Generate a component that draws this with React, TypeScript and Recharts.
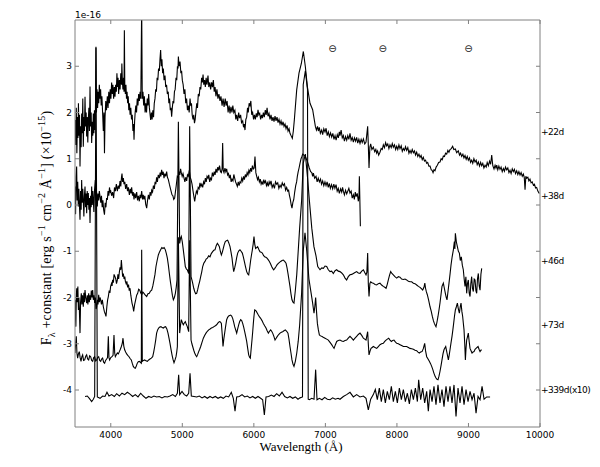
import React from 'react';
import { LineChart, Line, XAxis, YAxis, ReferenceDot } from 'recharts';

// spectra: [wavelength (A), flux + offset]
const day22: [number, number][] = [
  [3500, 1.84], [3510, 1.3], [3518, 2.1], [3526, 1.12], [3534, 1.9], [3541, 1.45], [3548, 2.2], [3556, 1.5],
  [3563, 1.95], [3570, 0.83], [3578, 1.7], [3586, 1.25], [3593, 1.98], [3601, 1.55], [3609, 2.3], [3616, 1.26],
  [3624, 1.9], [3632, 1.6], [3640, 2.34], [3648, 1.7], [3656, 2.0], [3663, 1.48], [3671, 1.9], [3679, 1.35],
  [3686, 1.84], [3694, 2.1], [3702, 1.6], [3710, 2.56], [3718, 1.7], [3726, 2.0], [3733, 1.34], [3741, 1.8],
  [3749, 1.5], [3756, 1.98], [3764, 1.55], [3772, 2.05], [3780, 1.62], [3787, 2.2], [3793, 3.42], [3800, 2.0],
  [3808, 2.5], [3816, 2.1], [3824, 2.45], [3832, 2.2], [3840, 2.6], [3850, 2.3], [3858, 2.5], [3866, 2.15],
  [3876, 2.35], [3886, 2.0], [3896, 1.6], [3905, 2.0], [3912, 1.12], [3920, 1.9], [3930, 2.25], [3940, 2.05],
  [3952, 2.35], [3962, 2.1], [3972, 2.45], [3982, 2.2], [3992, 2.5], [4002, 2.3], [4012, 2.65], [4022, 2.4],
  [4030, 2.6], [4040, 2.3], [4050, 2.55], [4059, 2.34], [4068, 2.6], [4078, 2.45], [4086, 2.85], [4094, 2.55],
  [4102, 2.75], [4110, 2.4], [4120, 2.7], [4130, 2.5], [4140, 2.85], [4150, 2.6], [4155, 3.06], [4162, 2.7],
  [4170, 2.5], [4178, 2.75], [4185, 2.45], [4190, 3.78], [4196, 2.6], [4204, 2.4], [4212, 2.6], [4220, 2.3],
  [4228, 2.45], [4236, 2.2], [4244, 2.35], [4252, 2.05], [4262, 2.2], [4270, 1.95], [4280, 2.1], [4290, 1.85],
  [4300, 1.95], [4310, 1.6], [4318, 1.75], [4325, 1.41], [4333, 1.8], [4341, 2.0], [4350, 2.15], [4360, 2.0],
  [4370, 2.3], [4380, 2.15], [4390, 2.4], [4400, 2.25], [4410, 2.45], [4420, 2.3], [4432, 4.3], [4440, 2.3],
  [4450, 2.45], [4460, 2.15], [4470, 2.35], [4480, 2.0], [4490, 2.2], [4500, 2.0], [4510, 2.3], [4520, 2.15],
  [4530, 2.4], [4540, 2.1], [4550, 1.95], [4558, 1.84], [4568, 2.0], [4578, 1.85], [4588, 2.05], [4598, 1.9],
  [4608, 2.2], [4618, 2.3], [4628, 2.5], [4638, 2.45], [4648, 2.75], [4658, 2.7], [4668, 2.95], [4679, 2.9],
  [4688, 3.15], [4697, 3.35], [4706, 3.0], [4715, 3.15], [4725, 2.85], [4735, 2.95], [4745, 2.7], [4758, 2.8],
  [4768, 2.55], [4780, 2.6], [4791, 2.4], [4803, 2.45], [4812, 2.2], [4822, 2.3], [4832, 2.05], [4842, 2.1],
  [4851, 1.91], [4860, 2.1], [4870, 2.25], [4880, 2.2], [4890, 2.45], [4900, 2.5], [4912, 2.75], [4922, 2.7],
  [4932, 3.0], [4940, 2.95], [4945, 3.21], [4955, 3.0], [4968, 3.1], [4980, 2.85], [4990, 2.9], [5000, 2.7],
  [5012, 2.6], [5024, 2.4], [5036, 2.5], [5048, 2.2], [5060, 2.3], [5072, 2.05], [5084, 2.15], [5096, 2.0],
  [5108, 2.3], [5117, 2.15], [5128, 2.2], [5138, 1.95], [5150, 1.85], [5160, 1.95], [5170, 1.77], [5180, 1.85],
  [5192, 2.05], [5202, 2.2], [5212, 2.1], [5224, 2.4], [5236, 2.35], [5247, 2.55], [5258, 2.5], [5270, 2.75],
  [5280, 2.65], [5290, 2.82], [5300, 2.6], [5312, 2.7], [5322, 2.55], [5333, 2.75], [5345, 2.6], [5359, 2.8],
  [5370, 2.55], [5384, 2.65], [5396, 2.5], [5410, 2.65], [5422, 2.55], [5434, 2.7], [5446, 2.45], [5458, 2.55],
  [5470, 2.35], [5484, 2.5], [5498, 2.3], [5512, 2.4], [5527, 2.25], [5540, 2.35], [5556, 2.15], [5570, 2.3],
  [5584, 2.12], [5600, 2.3], [5612, 2.15], [5626, 2.25], [5640, 2.0], [5654, 2.15], [5667, 1.98], [5680, 2.12],
  [5694, 2.0], [5706, 2.15], [5720, 2.0], [5735, 2.05], [5748, 1.85], [5760, 1.95], [5774, 1.82], [5788, 2.0],
  [5800, 1.88], [5815, 1.95], [5828, 1.78], [5844, 1.82], [5856, 1.68], [5866, 1.75], [5876, 1.62], [5888, 1.85],
  [5900, 1.9], [5912, 2.1], [5922, 2.0], [5934, 2.2], [5946, 2.15], [5958, 2.25], [5970, 1.95], [5983, 2.0],
  [5996, 1.85], [6008, 1.95], [6021, 1.85], [6034, 1.98], [6046, 1.9], [6058, 2.06], [6070, 1.95], [6082, 1.98],
  [6095, 1.85], [6108, 1.95], [6120, 1.88], [6133, 2.0], [6146, 1.9], [6160, 2.05], [6172, 1.95], [6185, 2.1],
  [6198, 1.92], [6212, 1.98], [6226, 1.85], [6240, 1.95], [6254, 1.82], [6268, 1.9], [6282, 1.8], [6296, 1.92],
  [6310, 1.82], [6324, 1.9], [6338, 1.78], [6352, 1.85], [6366, 1.75], [6380, 1.82], [6394, 1.72], [6408, 1.8],
  [6422, 1.7], [6436, 1.75], [6450, 1.65], [6464, 1.72], [6478, 1.6], [6492, 1.65], [6505, 1.55], [6520, 1.5],
  [6538, 1.44], [6552, 1.6], [6566, 1.84], [6599, 2.49], [6631, 2.85], [6664, 3.06], [6692, 3.32], [6720, 2.99],
  [6748, 2.56], [6785, 2.2], [6822, 2.06], [6860, 1.7], [6875, 1.62], [6890, 1.7], [6902, 1.6], [6915, 1.68],
  [6930, 1.55], [6948, 1.62], [6962, 1.52], [6978, 1.65], [6995, 1.58], [7010, 1.66], [7025, 1.5], [7041, 1.58],
  [7056, 1.48], [7072, 1.56], [7088, 1.47], [7104, 1.55], [7120, 1.42], [7135, 1.5], [7150, 1.4], [7166, 1.52],
  [7181, 1.45], [7195, 1.58], [7204, 1.5], [7220, 1.62], [7236, 1.45], [7251, 1.5], [7266, 1.38], [7282, 1.48],
  [7298, 1.4], [7313, 1.5], [7328, 1.42], [7344, 1.55], [7360, 1.4], [7375, 1.46], [7391, 1.36], [7406, 1.45],
  [7422, 1.38], [7437, 1.46], [7452, 1.34], [7468, 1.42], [7484, 1.33], [7500, 1.42], [7515, 1.35], [7531, 1.43],
  [7550, 1.32], [7568, 1.36], [7591, 1.7], [7600, 1.3], [7610, 0.8], [7622, 1.25], [7633, 1.32], [7650, 1.2],
  [7670, 1.25], [7690, 1.15], [7705, 1.2], [7717, 1.12], [7730, 1.17], [7745, 1.08], [7763, 1.14], [7780, 1.22],
  [7795, 1.2], [7810, 1.3], [7826, 1.24], [7842, 1.35], [7857, 1.28], [7872, 1.32], [7888, 1.22], [7903, 1.3],
  [7920, 1.24], [7935, 1.33], [7950, 1.25], [7966, 1.3], [7982, 1.2], [7997, 1.27], [8012, 1.2], [8028, 1.3],
  [8043, 1.22], [8060, 1.28], [8075, 1.16], [8090, 1.22], [8105, 1.18], [8120, 1.26], [8136, 1.18], [8152, 1.24],
  [8168, 1.12], [8183, 1.18], [8198, 1.12], [8214, 1.2], [8230, 1.13], [8246, 1.17], [8260, 1.08], [8276, 1.14],
  [8292, 1.05], [8308, 1.1], [8323, 1.03], [8338, 1.07], [8354, 0.98], [8369, 1.03], [8385, 0.95], [8400, 0.97],
  [8416, 0.9], [8430, 0.92], [8447, 0.84], [8463, 0.84], [8480, 0.76], [8492, 0.75], [8505, 0.7], [8518, 0.76],
  [8532, 0.74], [8548, 0.82], [8565, 0.86], [8583, 0.92], [8602, 0.93], [8618, 1.0], [8633, 0.98], [8649, 1.06],
  [8665, 1.05], [8680, 1.12], [8696, 1.1], [8712, 1.18], [8727, 1.14], [8742, 1.2], [8760, 1.22], [8779, 1.27],
  [8795, 1.2], [8817, 1.21], [8835, 1.13], [8858, 1.17], [8875, 1.08], [8890, 1.12], [8905, 1.05], [8922, 1.1],
  [8937, 1.02], [8952, 1.07], [8968, 0.99], [8983, 1.05], [8998, 0.97], [9014, 1.02], [9030, 0.92], [9045, 0.97],
  [9060, 0.9], [9076, 1.0], [9092, 0.93], [9108, 0.97], [9122, 0.87], [9138, 0.93], [9155, 0.84], [9170, 0.92],
  [9185, 0.85], [9200, 0.9], [9216, 0.8], [9232, 0.86], [9248, 0.82], [9262, 0.92], [9278, 0.85], [9295, 0.95],
  [9310, 0.88], [9325, 1.08], [9340, 0.85], [9357, 0.78], [9372, 0.86], [9385, 0.8], [9395, 0.86], [9410, 0.76],
  [9425, 0.84], [9441, 0.77], [9456, 0.82], [9472, 0.72], [9488, 0.79], [9503, 0.73], [9518, 0.82], [9534, 0.76],
  [9550, 0.8], [9566, 0.7], [9581, 0.75], [9596, 0.68], [9612, 0.78], [9627, 0.72], [9642, 0.77], [9658, 0.68],
  [9674, 0.74], [9690, 0.66], [9705, 0.72], [9721, 0.65], [9736, 0.7], [9752, 0.62], [9767, 0.67], [9780, 0.6],
  [9791, 0.33], [9802, 0.62], [9814, 0.58], [9830, 0.6], [9845, 0.52], [9860, 0.56], [9876, 0.48], [9891, 0.5],
  [9907, 0.43], [9922, 0.45], [9938, 0.37], [9953, 0.38], [9970, 0.3], [9990, 0.25],
];

const day38: [number, number][] = [
  [3500, 0.4], [3508, -0.2], [3515, 0.6], [3523, 0.83], [3530, 0.1], [3538, 0.5], [3546, -0.03], [3554, 0.35],
  [3562, 0.0], [3570, -0.32], [3578, 0.3], [3586, -0.1], [3593, 0.54], [3601, 0.05], [3609, 0.35], [3616, 0.11],
  [3624, -0.25], [3632, 0.2], [3640, 0.4], [3648, -0.05], [3656, 0.25], [3663, -0.18], [3671, 0.3], [3679, 0.0],
  [3686, 0.26], [3694, -0.1], [3702, 0.15], [3710, -0.39], [3718, 0.2], [3726, -0.05], [3733, 0.4], [3741, 0.0],
  [3749, 0.3], [3756, 0.11], [3764, -0.15], [3772, 0.3], [3784, 0.54], [3792, 0.1], [3800, 0.3], [3812, -0.03],
  [3820, 0.25], [3830, 0.1], [3840, 0.3], [3850, 0.18], [3860, 0.05], [3870, 0.2], [3880, -0.05], [3890, 0.1],
  [3900, -0.1], [3912, -0.21], [3922, 0.05], [3932, -0.05], [3942, 0.15], [3952, 0.11], [3962, 0.3], [3972, 0.2],
  [3982, 0.38], [3992, 0.28], [4000, 0.3], [4012, 0.2], [4026, 0.28], [4040, 0.15], [4052, 0.38], [4064, 0.3],
  [4078, 0.45], [4092, 0.3], [4105, 0.42], [4118, 0.35], [4129, 0.52], [4140, 0.4], [4150, 0.6], [4157, 0.68],
  [4166, 0.5], [4176, 0.58], [4185, 0.45], [4196, 0.5], [4208, 0.35], [4222, 0.45], [4234, 0.3], [4246, 0.38],
  [4260, 0.22], [4272, 0.35], [4283, 0.25], [4292, 0.38], [4304, 0.2], [4314, 0.28], [4325, 0.12], [4336, 0.25],
  [4348, 0.15], [4362, 0.28], [4374, 0.1], [4386, 0.2], [4399, 0.08], [4410, 0.22], [4420, 0.15], [4432, 0.3],
  [4444, 0.12], [4454, 0.22], [4464, 0.12], [4476, 0.2], [4488, 0.02], [4502, -0.07], [4514, 0.1], [4526, 0.22],
  [4539, 0.12], [4550, 0.28], [4562, 0.2], [4572, 0.32], [4584, 0.28], [4596, 0.42], [4609, 0.35], [4620, 0.5],
  [4630, 0.45], [4641, 0.6], [4652, 0.5], [4664, 0.65], [4679, 0.58], [4690, 0.7], [4700, 0.62], [4711, 0.76],
  [4722, 0.65], [4733, 0.72], [4744, 0.58], [4756, 0.68], [4768, 0.62], [4781, 0.72], [4792, 0.6], [4805, 0.55],
  [4819, 0.45], [4830, 0.38], [4843, 0.3], [4856, 0.22], [4868, 0.2], [4880, 0.12], [4893, 0.15], [4905, 0.3],
  [4915, 0.42], [4921, 0.5], [4930, 0.62], [4942, 0.6], [4954, 0.72], [4965, 0.65], [4976, 0.78], [4986, 0.7],
  [4998, 0.62], [5010, 0.68], [5024, 0.58], [5036, 0.5], [5048, 0.6], [5061, 0.52], [5072, 0.65], [5084, 0.62],
  [5098, 0.75], [5110, 0.6], [5122, 0.55], [5136, 0.45], [5150, 0.3], [5162, 0.18], [5173, 0.08], [5185, 0.2],
  [5197, 0.3], [5210, 0.25], [5222, 0.38], [5235, 0.35], [5247, 0.48], [5260, 0.4], [5272, 0.45], [5285, 0.38],
  [5298, 0.5], [5310, 0.45], [5322, 0.58], [5334, 0.5], [5346, 0.62], [5359, 0.58], [5370, 0.65], [5383, 0.5],
  [5396, 0.58], [5408, 0.55], [5420, 0.7], [5434, 0.62], [5446, 0.72], [5458, 0.65], [5471, 0.78], [5484, 0.7],
  [5496, 0.82], [5508, 0.75], [5520, 0.85], [5534, 0.72], [5546, 0.7], [5556, 0.78], [5564, 1.34], [5572, 0.75],
  [5583, 0.7], [5596, 0.8], [5608, 0.72], [5620, 0.78], [5633, 0.65], [5645, 0.68], [5658, 0.58], [5670, 0.65],
  [5683, 0.5], [5695, 0.56], [5708, 0.52], [5720, 0.66], [5732, 0.58], [5745, 0.5], [5758, 0.45], [5769, 0.4],
  [5782, 0.5], [5794, 0.42], [5806, 0.5], [5818, 0.48], [5831, 0.58], [5844, 0.52], [5856, 0.62], [5868, 0.55],
  [5881, 0.66], [5893, 0.6], [5906, 0.7], [5918, 0.65], [5931, 0.75], [5943, 0.7], [5956, 0.8], [5968, 0.72],
  [5980, 0.85], [5993, 0.78], [6005, 0.8], [6016, 1.05], [6028, 0.7], [6040, 0.62], [6052, 0.55], [6064, 0.6],
  [6077, 0.5], [6090, 0.56], [6102, 0.45], [6114, 0.5], [6127, 0.44], [6139, 0.55], [6151, 0.48], [6164, 0.52],
  [6176, 0.42], [6189, 0.48], [6201, 0.4], [6214, 0.5], [6226, 0.45], [6240, 0.52], [6256, 0.38], [6272, 0.44],
  [6288, 0.36], [6303, 0.5], [6319, 0.45], [6334, 0.48], [6350, 0.36], [6366, 0.43], [6381, 0.38], [6397, 0.48],
  [6412, 0.42], [6428, 0.46], [6444, 0.32], [6459, 0.38], [6474, 0.3], [6486, 0.32], [6496, 0.22], [6510, 0.12],
  [6522, 0.0], [6533, -0.07], [6545, 0.05], [6558, 0.12], [6571, 0.28], [6585, 0.42], [6598, 0.5], [6608, 0.62],
  [6620, 0.72], [6632, 0.8], [6645, 0.9], [6660, 1.0], [6672, 1.05], [6683, 1.1], [6700, 1.08], [6720, 1.05],
  [6738, 0.98], [6757, 0.9], [6775, 0.8], [6794, 0.72], [6810, 0.7], [6822, 0.62], [6832, 0.69], [6850, 0.58],
  [6869, 0.62], [6885, 0.5], [6900, 0.58], [6916, 0.5], [6932, 0.56], [6946, 0.45], [6962, 0.52], [6978, 0.42],
  [6994, 0.5], [7009, 0.42], [7024, 0.5], [7040, 0.38], [7055, 0.47], [7070, 0.36], [7086, 0.44], [7102, 0.35],
  [7118, 0.45], [7133, 0.36], [7149, 0.44], [7165, 0.3], [7180, 0.36], [7195, 0.25], [7212, 0.35], [7228, 0.28],
  [7240, 0.38], [7251, 0.3], [7266, 0.22], [7282, 0.32], [7298, 0.24], [7313, 0.3], [7328, 0.36], [7344, 0.26],
  [7360, 0.3], [7375, 0.15], [7391, 0.22], [7405, 0.12], [7418, 0.28], [7430, 0.18], [7445, 0.25], [7461, 0.08],
  [7470, 0.2], [7475, 0.62], [7482, 0.1], [7489, -0.46],
];

const day46: [number, number][] = [
  [3500, -2.05], [3506, -2.4], [3512, -2.63], [3518, -2.0], [3524, -1.8], [3532, -2.1], [3540, -1.76], [3548, -2.27],
  [3555, -2.0], [3562, -2.3], [3570, -2.77], [3578, -2.1], [3588, -1.91], [3596, -2.15], [3605, -1.95], [3616, -2.2],
  [3624, -1.9], [3632, -2.1], [3640, -1.84], [3650, -2.0], [3663, -2.12], [3672, -1.95], [3680, -2.15], [3691, -1.91],
  [3700, -2.1], [3710, -1.95], [3719, -2.05], [3728, -1.85], [3738, -2.0], [3747, -1.84], [3756, -2.05], [3766, -1.95],
  [3775, -2.12], [3785, -2.0], [3795, -2.25], [3803, -2.2], [3813, -2.05], [3822, -2.15], [3831, -1.94], [3840, -2.1],
  [3850, -2.0], [3859, -2.05], [3870, -2.15], [3882, -2.05], [3896, -2.2], [3910, -2.3], [3922, -2.35], [3933, -2.41],
  [3945, -2.2], [3956, -2.05], [3966, -1.98], [3978, -1.85], [3988, -1.9], [3998, -1.76], [4010, -1.7], [4018, -1.75],
  [4026, -1.62], [4036, -1.68], [4046, -1.5], [4059, -1.55], [4070, -1.6], [4080, -1.7], [4092, -1.62], [4100, -1.5],
  [4110, -1.6], [4120, -1.45], [4130, -1.35], [4140, -1.4], [4148, -1.19], [4156, -1.35], [4166, -1.55], [4176, -1.48],
  [4186, -1.6], [4196, -1.55], [4204, -1.65], [4215, -1.7], [4225, -1.65], [4236, -1.78], [4248, -1.72], [4258, -1.85],
  [4269, -1.8], [4280, -1.95], [4297, -2.12], [4310, -2.2], [4320, -2.3], [4334, -2.15], [4348, -2.05], [4362, -1.95],
  [4376, -1.91], [4390, -1.82], [4404, -1.84], [4418, -1.9], [4432, -1.94], [4448, -1.88], [4464, -1.91],
  [4483, -1.95], [4502, -1.98], [4520, -1.92], [4539, -1.91], [4555, -1.86], [4572, -1.84], [4588, -1.75],
  [4604, -1.62], [4618, -1.5], [4632, -1.33], [4648, -1.2], [4665, -1.08], [4680, -1.02], [4697, -0.97],
  [4714, -0.92], [4730, -0.94], [4746, -0.92], [4763, -0.97], [4777, -1.05], [4791, -1.15], [4805, -1.3],
  [4819, -1.48], [4833, -1.65], [4847, -1.8], [4861, -1.95], [4875, -2.05], [4889, -2.0], [4903, -1.91],
  [4915, -1.78], [4926, -1.62], [4945, 1.8], [4963, -0.83], [4975, -0.72], [4986, -0.68], [5000, -0.8], [5014, -0.97],
  [5028, -1.15], [5042, -1.33], [5056, -1.38], [5070, -1.4], [5089, -1.48], [5103, 1.7], [5122, -1.55], [5134, -1.62],
  [5145, -1.69], [5160, -1.8], [5173, -1.87], [5187, -1.92], [5201, -1.91], [5215, -1.83], [5229, -1.73],
  [5243, -1.65], [5257, -1.55], [5271, -1.45], [5285, -1.33], [5300, -1.26], [5317, -1.22], [5333, -1.17],
  [5350, -1.15], [5368, -1.1], [5387, -1.12], [5405, -1.05], [5424, -1.01], [5440, -0.98], [5457, -0.97],
  [5474, -0.88], [5490, -0.83], [5504, -0.86], [5518, -0.9], [5532, -1.0], [5546, -1.08], [5560, -1.02],
  [5573, -0.94], [5587, -0.85], [5601, -0.79], [5617, -0.77], [5634, -0.76], [5650, -0.82], [5667, -0.9],
  [5681, -1.02], [5695, -1.15], [5706, -1.3], [5718, -1.44], [5732, -1.36], [5746, -1.26], [5760, -1.14],
  [5774, -1.04], [5790, -0.99], [5806, -0.97], [5822, -1.0], [5839, -1.04], [5853, -1.12], [5867, -1.22],
  [5883, -1.33], [5900, -1.44], [5914, -1.49], [5928, -1.51], [5942, -1.36], [5956, -1.19], [5968, -1.07],
  [5979, -0.97], [5990, -0.85], [6002, -0.68], [6013, -0.85], [6025, -0.94], [6039, -0.92], [6053, -0.9],
  [6070, -0.96], [6086, -1.01], [6102, -1.02], [6119, -1.04], [6135, -1.09], [6151, -1.12], [6168, -1.13],
  [6184, -1.15], [6200, -1.18], [6217, -1.22], [6233, -1.27], [6249, -1.33], [6263, -1.37], [6277, -1.4],
  [6293, -1.37], [6310, -1.33], [6326, -1.29], [6343, -1.26], [6359, -1.24], [6375, -1.22], [6394, -1.2],
  [6412, -1.19], [6431, -1.22], [6450, -1.26], [6464, -1.36], [6477, -1.48], [6491, -1.62], [6505, -1.76],
  [6519, -1.92], [6533, -2.05], [6547, -2.1], [6561, -2.12], [6580, -1.85], [6600, -1.5], [6620, -1.0],
  [6640, -0.5], [6668, 0.1], [6690, 0.9], [6720, 1.1], [6750, 0.6], [6776, 0.1], [6810, -0.5], [6840, -0.9],
  [6869, -1.1], [6893, -1.33], [6925, -1.4], [6950, -1.36], [6972, -1.37], [6995, -1.32], [7018, -1.33],
  [7041, -1.4], [7065, -1.44], [7088, -1.43], [7111, -1.48], [7135, -1.42], [7158, -1.4], [7180, -1.43],
  [7204, -1.44], [7228, -1.47], [7251, -1.51], [7275, -1.58], [7297, -1.62], [7320, -1.55], [7344, -1.51],
  [7368, -1.5], [7391, -1.48], [7414, -1.46], [7437, -1.44], [7460, -1.47], [7484, -1.48], [7508, -1.43],
  [7531, -1.4], [7550, -1.46], [7568, -1.51], [7580, -1.45], [7591, -1.04], [7600, -1.7], [7610, -1.98],
  [7622, -1.7], [7633, -1.66], [7650, -1.68], [7670, -1.69], [7694, -1.72], [7717, -1.73], [7740, -1.7],
  [7763, -1.69], [7786, -1.73], [7810, -1.76], [7830, -1.78], [7848, -1.8], [7864, -1.72], [7880, -1.62],
  [7896, -1.52], [7913, -1.44], [7930, -1.48], [7950, -1.51], [7972, -1.55], [7997, -1.58], [8020, -1.55],
  [8043, -1.56], [8066, -1.6], [8090, -1.61], [8113, -1.6], [8136, -1.62], [8160, -1.65], [8183, -1.66],
  [8206, -1.66], [8230, -1.69], [8253, -1.7], [8276, -1.73], [8300, -1.76], [8323, -1.78], [8342, -1.81],
  [8360, -1.84], [8378, -1.78], [8390, -1.69], [8400, -1.8], [8412, -1.88], [8425, -1.94], [8444, -2.06],
  [8463, -2.2], [8480, -2.3], [8495, -2.41], [8510, -2.5], [8523, -2.56], [8535, -2.6], [8546, -2.63],
  [8560, -2.53], [8574, -2.41], [8588, -2.27], [8602, -2.12], [8616, -1.94], [8630, -1.76], [8649, -1.69],
  [8663, -1.8], [8677, -1.91], [8690, -2.0], [8700, -2.05], [8714, -1.87], [8728, -1.69], [8742, -1.5],
  [8756, -1.3], [8772, -1.12], [8789, -0.97], [8803, -0.79], [8810, -0.95], [8817, -0.61], [8831, -0.8],
  [8845, -0.9], [8859, -1.0], [8873, -1.04], [8886, -1.2], [8900, -1.12], [8914, -1.3], [8928, -1.4],
  [8940, -1.6], [8952, -1.76], [8964, -1.55], [8975, -1.91], [8986, -1.7], [8998, -1.62], [9010, -1.9],
  [9022, -1.98], [9033, -1.7], [9045, -1.55], [9056, -1.8], [9068, -1.87], [9080, -1.6], [9092, -1.62],
  [9104, -1.85], [9115, -1.91], [9126, -1.6], [9138, -1.48], [9150, -1.75], [9162, -1.84], [9174, -1.5],
  [9185, -1.37],
];

const day73: [number, number][] = [
  [3500, -3.2], [3509, -3.0], [3518, -2.84], [3527, -3.2], [3537, -3.31], [3548, -3.22], [3560, -3.17],
  [3572, -3.3], [3584, -3.38], [3596, -3.28], [3607, -3.24], [3620, -3.36], [3635, -3.35], [3650, -3.27],
  [3663, -3.24], [3677, -3.33], [3691, -3.35], [3705, -3.26], [3719, -3.28], [3733, -3.36], [3747, -3.38],
  [3761, -3.3], [3775, -3.28], [3789, -3.37], [3803, -3.35], [3817, -3.3], [3831, -3.28], [3845, -3.36],
  [3859, -3.38], [3872, -3.33], [3886, -3.31], [3900, -3.4], [3914, -3.42], [3928, -3.36], [3942, -3.33],
  [3955, -3.3], [3966, -2.84], [3975, -3.3], [3984, -3.35], [4000, -3.3], [4017, -3.28], [4032, -3.25],
  [4045, -2.81], [4055, -3.2], [4064, -3.28], [4078, -3.24], [4092, -3.2], [4106, -3.22], [4120, -3.17],
  [4134, -3.12], [4148, -3.06], [4160, -3.0], [4171, -2.88], [4182, -3.05], [4194, -3.13], [4208, -3.18],
  [4222, -3.22], [4238, -3.25], [4255, -3.28], [4270, -3.32], [4287, -3.35], [4300, -3.42], [4315, -3.49],
  [4330, -3.52], [4343, -3.53], [4357, -3.48], [4371, -3.42], [4385, -3.39], [4399, -3.38], [4413, -3.4],
  [4427, -3.42], [4432, -0.97], [4441, -3.38], [4458, -3.36], [4474, -3.35], [4492, -3.37], [4511, -3.38],
  [4530, -3.35], [4548, -3.33], [4567, -3.31], [4586, -3.28], [4600, -3.18], [4614, -3.06], [4628, -2.92],
  [4641, -2.77], [4655, -2.7], [4669, -2.66], [4685, -2.64], [4702, -2.63], [4718, -2.65], [4735, -2.66],
  [4751, -2.64], [4767, -2.63], [4784, -2.68], [4800, -2.77], [4814, -2.88], [4828, -2.99], [4842, -3.12],
  [4856, -3.24], [4870, -3.34], [4884, -3.41], [4898, -3.35], [4912, -3.28], [4922, -3.18], [4931, -3.06],
  [4945, -0.7], [4963, -2.77], [4975, -2.6], [4986, -2.48], [5000, -2.54], [5014, -2.59], [5028, -2.55],
  [5042, -2.52], [5056, -2.58], [5070, -2.63], [5089, -2.74], [5103, -0.76], [5122, -2.92], [5134, -3.0],
  [5145, -3.06], [5160, -3.14], [5173, -3.2], [5187, -3.25], [5201, -3.28], [5215, -3.23], [5229, -3.17],
  [5243, -3.12], [5257, -3.06], [5275, -2.97], [5294, -2.88], [5312, -2.82], [5331, -2.77], [5350, -2.73],
  [5369, -2.7], [5388, -2.68], [5406, -2.66], [5425, -2.65], [5443, -2.63], [5462, -2.61], [5480, -2.59],
  [5499, -2.55], [5518, -2.52], [5532, -2.53], [5546, -2.56], [5558, -2.8], [5569, -3.06], [5580, -2.9],
  [5592, -2.77], [5606, -2.62], [5620, -2.48], [5634, -2.43], [5648, -2.4], [5662, -2.39], [5676, -2.38],
  [5690, -2.4], [5704, -2.45], [5718, -2.53], [5732, -2.63], [5746, -2.7], [5760, -2.77], [5774, -2.68],
  [5788, -2.59], [5802, -2.52], [5816, -2.48], [5830, -2.5], [5844, -2.56], [5858, -2.64], [5872, -2.74],
  [5886, -2.84], [5900, -2.95], [5914, -3.1], [5928, -3.24], [5940, -3.29], [5951, -3.31], [5962, -3.12],
  [5974, -2.92], [5984, -2.74], [5993, -2.56], [6002, -2.4], [6012, -2.27], [6024, -2.28], [6035, -2.3],
  [6049, -2.34], [6063, -2.38], [6079, -2.42], [6095, -2.45], [6114, -2.5], [6133, -2.56], [6151, -2.61],
  [6170, -2.66], [6186, -2.72], [6203, -2.77], [6219, -2.73], [6235, -2.7], [6249, -2.73], [6263, -2.77],
  [6280, -2.84], [6296, -2.92], [6312, -2.88], [6328, -2.84], [6347, -2.8], [6366, -2.77], [6385, -2.75],
  [6403, -2.74], [6421, -2.72], [6440, -2.7], [6459, -2.73], [6477, -2.77], [6491, -2.9], [6505, -3.06],
  [6519, -3.2], [6533, -3.35], [6547, -3.44], [6561, -3.49], [6580, -3.38], [6600, -3.2], [6620, -2.95],
  [6640, -2.6], [6668, -1.9], [6690, -1.0], [6715, -0.6], [6740, -1.0], [6770, -1.6], [6800, -1.9],
  [6820, -2.1], [6841, -2.34], [6852, -2.2], [6864, -2.0], [6876, -2.3], [6888, -2.56], [6902, -2.7],
  [6916, -2.81], [6932, -2.83], [6948, -2.84], [6970, -2.86], [6995, -2.88], [7018, -2.9], [7041, -2.92],
  [7065, -2.97], [7088, -3.02], [7104, -3.06], [7121, -3.1], [7140, -3.02], [7158, -2.95], [7180, -2.93],
  [7204, -2.92], [7228, -2.94], [7251, -2.95], [7275, -2.93], [7297, -2.92], [7320, -2.88], [7344, -2.84],
  [7368, -2.88], [7391, -2.92], [7414, -2.88], [7437, -2.84], [7460, -2.8], [7484, -2.77], [7508, -2.82],
  [7531, -2.88], [7550, -2.9], [7568, -2.92], [7591, -2.74], [7600, -3.0], [7610, -3.24], [7624, -3.16],
  [7638, -3.1], [7654, -3.08], [7670, -3.06], [7694, -3.08], [7717, -3.1], [7740, -3.06], [7763, -3.02],
  [7786, -3.0], [7810, -2.99], [7830, -2.95], [7848, -2.92], [7866, -2.9], [7885, -2.88], [7904, -2.92],
  [7922, -2.95], [7940, -2.93], [7959, -2.92], [7978, -2.96], [7997, -2.99], [8020, -3.0], [8043, -3.02],
  [8066, -3.04], [8090, -3.06], [8113, -3.06], [8136, -3.06], [8160, -3.08], [8183, -3.1], [8206, -3.11],
  [8230, -3.12], [8253, -3.14], [8276, -3.15], [8295, -3.18], [8313, -3.2], [8332, -3.18], [8351, -3.17],
  [8370, -3.1], [8388, -2.99], [8400, -3.15], [8416, -3.28], [8435, -3.33], [8453, -3.38], [8470, -3.43],
  [8486, -3.49], [8502, -3.56], [8518, -3.64], [8532, -3.7], [8546, -3.74], [8560, -3.77], [8574, -3.78],
  [8588, -3.7], [8602, -3.6], [8616, -3.48], [8630, -3.35], [8644, -3.22], [8658, -3.13], [8670, -3.09],
  [8682, -3.06], [8700, -3.2], [8719, -3.35], [8730, -3.25], [8742, -3.13], [8756, -2.98], [8770, -2.84],
  [8782, -2.7], [8793, -2.56], [8805, -2.4], [8817, -2.27], [8831, -2.2], [8845, -2.12], [8859, -2.25],
  [8873, -2.34], [8885, -2.2], [8896, -2.12], [8908, -2.3], [8919, -2.41], [8928, -2.55], [8938, -2.7],
  [8948, -3.0], [8957, -3.35], [8966, -3.1], [8975, -2.92], [8986, -2.85], [8998, -2.77], [9010, -2.95],
  [9022, -3.1], [9036, -3.15], [9050, -3.2], [9064, -3.18], [9078, -3.17], [9092, -3.12], [9106, -3.1],
  [9120, -3.08], [9134, -3.06], [9148, -3.12], [9162, -3.17], [9174, -3.14], [9185, -3.13],
];

const day339: [number, number][] = [
  [3640, -4.14], [3672, -4.13], [3700, -4.18], [3733, -4.25], [3756, -4.2], [3775, -4.14], [3793, 3.4],
  [3812, -4.15], [3850, -4.18], [3886, -4.13], [3919, -4.14], [3947, -4.05], [3975, -4.13], [4012, -4.1],
  [4050, -4.14], [4082, -4.08], [4120, -4.13], [4157, -4.07], [4194, -4.1], [4232, -4.05], [4269, -4.09],
  [4306, -4.14], [4343, -4.1], [4381, -4.15], [4418, -4.07], [4455, -4.13], [4492, -4.18], [4530, -4.14],
  [4567, -4.16], [4604, -4.13], [4641, -4.15], [4679, -4.14], [4716, -4.17], [4753, -4.14], [4791, -4.15],
  [4828, -4.13], [4866, -4.1], [4903, -4.14], [4931, -4.07], [4949, -3.67], [4963, -4.1], [4996, -4.03],
  [5028, -4.1], [5061, -4.13], [5089, -4.07], [5108, -3.64], [5126, -4.13], [5164, -4.14], [5201, -4.15],
  [5238, -4.13], [5276, -4.17], [5313, -4.14], [5350, -4.18], [5387, -4.14], [5424, -4.17], [5462, -4.14],
  [5499, -4.18], [5536, -4.15], [5573, -4.18], [5611, -4.13], [5648, -4.15], [5685, -4.05], [5713, -4.18],
  [5737, -4.46], [5760, -4.15], [5797, -4.14], [5835, -4.1], [5872, -4.15], [5909, -4.13], [5946, -4.17],
  [5983, -4.14], [6021, -4.18], [6058, -4.14], [6095, -4.18], [6123, -4.21], [6147, -4.54], [6170, -4.15],
  [6207, -4.14], [6245, -4.11], [6282, -4.14], [6319, -4.08], [6356, -4.13], [6394, -4.05], [6431, -4.14],
  [6468, -4.17], [6505, -4.14], [6543, -4.18], [6580, -4.15], [6617, -4.2], [6645, -4.17], [6680, -4.15],
  [6690, 2.6], [6720, 2.9], [6750, 2.5], [6760, -4.2], [6776, -4.21], [6809, -4.18], [6841, -4.2],
  [6864, -3.56], [6883, -4.21], [6916, -4.18], [6953, -4.21], [6990, -4.16], [7027, -4.2], [7065, -4.21],
  [7102, -4.17], [7139, -4.2], [7177, -4.18], [7204, -4.2], [7251, -4.14], [7297, -4.1], [7344, -4.05],
  [7391, -4.15], [7437, -4.1], [7484, -4.15], [7531, -4.13], [7568, -4.18], [7600, -4.43], [7633, -4.2],
  [7670, -4.1], [7698, -3.99], [7726, -4.21], [7754, -3.96], [7782, -4.25], [7810, -3.99], [7838, -4.28],
  [7866, -4.03], [7894, -4.21], [7922, -3.92], [7950, -4.25], [7978, -4.03], [8006, -4.28], [8034, -3.96],
  [8062, -4.21], [8090, -3.99], [8118, -4.25], [8146, -4.07], [8174, -4.3], [8202, -3.99], [8230, -4.21],
  [8258, -3.96], [8286, -4.25], [8304, -3.78], [8332, -4.21], [8360, -3.96], [8388, -4.28], [8416, -4.03],
  [8439, -4.46], [8463, -3.99], [8491, -4.25], [8518, -3.92], [8546, -4.32], [8574, -3.89], [8602, -4.28],
  [8630, -3.99], [8658, -4.36], [8686, -3.92], [8714, -4.25], [8742, -3.92], [8770, -4.28], [8798, -3.89],
  [8826, -4.57], [8854, -3.96], [8882, -4.28], [8910, -3.92], [8938, -4.32], [8966, -3.99], [8994, -4.25],
  [9022, -4.03], [9050, -4.21], [9078, -4.07], [9106, -4.5], [9134, -4.14], [9162, -4.21], [9190, -3.92],
  [9218, -4.2], [9255, -4.15], [9302, -4.15],
];

const spectra = [day22, day38, day46, day73, day339];
const epochNames = ['+22d', '+38d', '+46d', '+73d', '+339d(x10)'];
const epochLabelY = [1.58, 0.19, -1.21, -2.59, -4.0];
const telluricX = [7100, 7800, 9000];
const telluricY = 3.39;

const xTicks = [4000, 5000, 6000, 7000, 8000, 9000, 10000];
const yTicks = [-4, -3, -2, -1, 0, 1, 2, 3];
const yDomain: [number, number] = [-4.8, 4.0];

const AXIS = '#808080';
const tickFont = { fontSize: 9, fontFamily: 'DejaVu Sans', fill: '#000' };

const BottomTick = (p: any) => (
  <g>
    <line x1={p.x} y1={p.y} x2={p.x} y2={p.y - 4} stroke={AXIS} />
    <text x={p.x} y={p.y + 11} textAnchor="middle" {...tickFont}>{p.payload.value}</text>
  </g>
);
const TopTick = (p: any) => <line x1={p.x} y1={p.y} x2={p.x} y2={p.y + 4} stroke={AXIS} />;
const LeftTick = (p: any) => (
  <g>
    <line x1={p.x} y1={p.y} x2={p.x + 4} y2={p.y} stroke={AXIS} />
    <text x={p.x - 3} y={p.y} dy="0.35em" textAnchor="end" {...tickFont}>{p.payload.value}</text>
  </g>
);
const RightTick = (p: any) => <line x1={p.x} y1={p.y} x2={p.x - 4} y2={p.y} stroke={AXIS} />;

const epochLabel = (name: string) => (p: any) => (
  <text x={p.viewBox.x + 1} y={p.viewBox.y} dy="0.35em" letterSpacing={-0.5} {...tickFont}>{name}</text>
);

const serif = '"Liberation Serif", "DejaVu Serif", serif';
const sup = { fontSize: 10, verticalAlign: 'super', lineHeight: 0 } as const;
const sub = { fontSize: 10, verticalAlign: 'sub', lineHeight: 0 } as const;

export default function App() {
  return (
    <div style={{ position: 'relative', width: 584, height: 447 }}>
      <LineChart width={584} height={447} margin={{ top: 10, right: 42, bottom: 0, left: 37 }}>
        <XAxis xAxisId="b" type="number" dataKey="w" domain={[3500, 10000]} ticks={xTicks}
          allowDataOverflow height={28} tickSize={0} tickMargin={0} tickLine={false}
          axisLine={{ stroke: AXIS }} tick={BottomTick} interval={0} />
        <XAxis xAxisId="t" orientation="top" type="number" dataKey="w" domain={[3500, 10000]} ticks={xTicks}
          allowDataOverflow height={2} tickSize={0} tickMargin={0} tickLine={false}
          axisLine={{ stroke: AXIS }} tick={TopTick} interval={0} />
        <YAxis yAxisId="l" type="number" domain={yDomain} ticks={yTicks} allowDataOverflow
          width={30} tickSize={0} tickMargin={0} tickLine={false} axisLine={{ stroke: AXIS }}
          tick={LeftTick} interval={0} />
        <YAxis yAxisId="r" orientation="right" type="number" domain={yDomain} ticks={yTicks}
          allowDataOverflow width={10} tickSize={0} tickMargin={0} tickLine={false}
          axisLine={{ stroke: AXIS }} tick={RightTick} interval={0} />
        {spectra.map((s, i) => (
          <Line key={epochNames[i]} xAxisId="b" yAxisId="l" data={s.map(([w, f]) => ({ w, f }))}
            dataKey="f" type="linear" stroke="#000" strokeWidth={1.1} dot={false}
            isAnimationActive={false} />
        ))}
        {epochNames.map((name, i) => (
          <ReferenceDot key={name} xAxisId="b" yAxisId="l" x={10000} y={epochLabelY[i]} r={0}
            fill="none" stroke="none" ifOverflow="visible" label={{ content: epochLabel(name) }} />
        ))}
        {telluricX.map((x) => (
          <ReferenceDot key={x} xAxisId="b" yAxisId="l" x={x} y={telluricY} r={0}
            fill="none" stroke="none" ifOverflow="visible"
            label={{ value: '\u2296', position: 'center', fontSize: 10, fontFamily: 'DejaVu Sans', fill: '#222' }} />
        ))}
      </LineChart>
      <div style={{ position: 'absolute', left: 67, top: 2, fontSize: 9, lineHeight: '11px',
        fontFamily: 'DejaVu Sans' }}>1e-16</div>
      <div style={{ position: 'absolute', left: 143, top: 432, width: 300, textAlign: 'center',
        fontFamily: serif, fontSize: 13, lineHeight: '14px' }}>Wavelength (Å)</div>
      <div style={{ position: 'absolute', left: 39 - 150, top: 220 - 10, width: 300, height: 20,
        lineHeight: '20px', transform: 'rotate(-90deg)', textAlign: 'center', whiteSpace: 'nowrap',
        fontFamily: serif, fontSize: 14, letterSpacing: 0.2 }}>
        F<span style={sub}>λ</span> +constant [erg s<span style={sup}>−1</span> cm<span style={sup}>−2</span> Å<span style={sup}>−1</span>] (×10<span style={sup}>−15</span>)
      </div>
    </div>
  );
}
